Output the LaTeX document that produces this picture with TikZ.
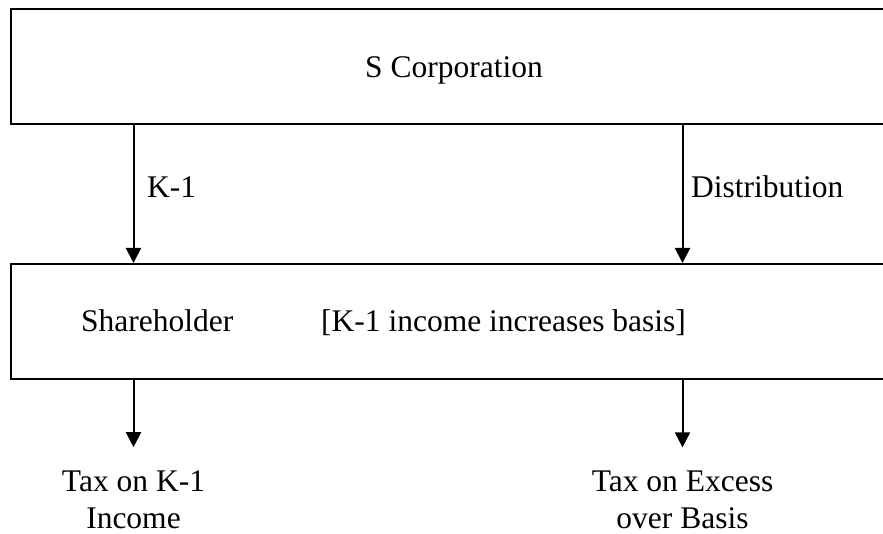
\documentclass[tikz,border=0pt]{standalone}
\usepackage{fontspec}
\setmainfont{Liberation Serif}
\usepackage{tikz}
\usetikzlibrary{positioning, arrows.meta, calc}

\begin{document}
\begin{tikzpicture}[x=1pt, y=-1pt,
  every node/.style={font=\fontsize{31.5}{37}\selectfont},
  block/.style={draw, line width=2pt, minimum width=886pt, minimum height=115pt,
    inner sep=0pt},
  lbl/.style={anchor=base west, inner sep=0pt},
  result/.style={anchor=base, align=center, inner sep=0pt, outer sep=23pt},
  arr/.style={-{Triangle[length=15pt, width=15pt]}, line width=2pt}
]
  \useasboundingbox (0,0) rectangle (883,534);
  \clip (0,0) rectangle (883,534);

  % Boxes (run off the right edge)
  \node[block, text height=22pt, text depth=0pt] (corp) at (454,66.5) {S Corporation};
  \node[block] (share) at (454,321.5) {};

  % Box texts
  \node[lbl] (holder) at (81,332) {Shareholder};
  \node[lbl] (rule) at (321,332) {[K-1 income increases basis]};

  % Results (base = last line)
  \node[result] (taxk) at (133.5,528) {Tax on K-1\\Income};
  \node[result] (taxex) at (682.5,528) {Tax on Excess\\over Basis};

  % Arrows
  \draw[arr] (corp.south -| taxk) -- (share.north -| taxk);
  \draw[arr] (corp.south -| taxex) -- (share.north -| taxex);
  \draw[arr] (share.south -| taxk) -- (taxk.north);
  \draw[arr] (share.south -| taxex) -- (taxex.north);

  % Arrow labels
  \node[lbl] (k1) at (147,198) {K-1};
  \node[lbl] (dist) at (691,198) {Distribution};
\end{tikzpicture}
\end{document}
